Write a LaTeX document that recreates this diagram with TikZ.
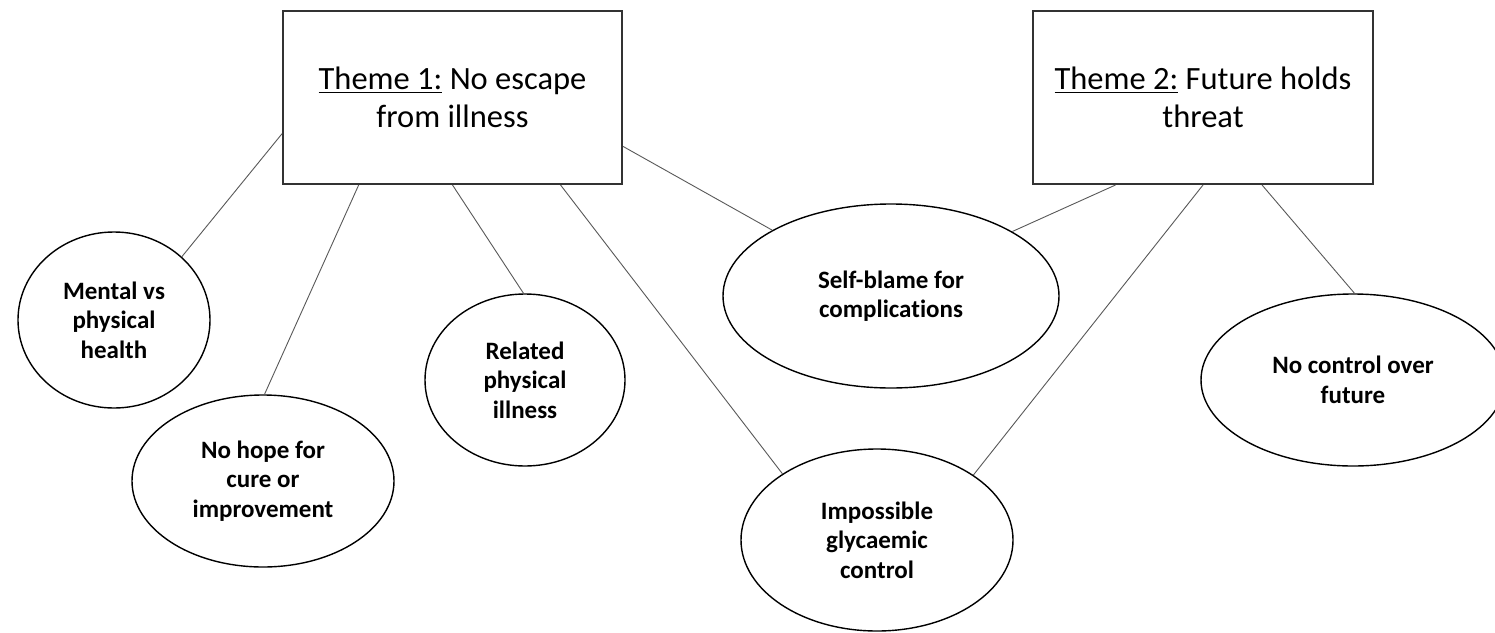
\documentclass[tikz,border=0pt]{standalone}
\usepackage{fontspec}
\setmainfont{Carlito}[Ligatures=NoCommon]
\usetikzlibrary{shapes.geometric}
% underlined lead-in of a theme title
\newcommand{\thmul}[1]{\setbox0\hbox{#1}\rlap{\rule[-3.5pt]{\wd0}{1.6pt}}\box0\relax}
\begin{document}
\begin{tikzpicture}[x=1pt,y=-1pt,
  theme/.style={draw=black!80, line width=2pt, rectangle, minimum width=339pt,
    minimum height=173pt, inner sep=0pt, align=center,
    font=\fontsize{32.5}{38}\selectfont},
  subtheme/.style={draw=black, line width=1.4pt, ellipse, inner sep=0pt,
    align=center, font=\fontsize{25}{29.5}\selectfont\bfseries},
  link/.style={draw=black!65, line width=0.9pt}]
\fill[white] (0,0) rectangle (1495,632);
\useasboundingbox (0,0) rectangle (1495,632);
\clip (0,0) rectangle (1495,632);

% themes
\node[theme] (t1) at (452.5,97.5) {\thmul{Theme 1:} No escape\\from illness};
\node[theme, minimum width=340pt] (t2) at (1203,97.5) {\thmul{Theme 2:} Future holds\\threat};

% sub-themes
\node[subtheme, minimum width=192pt, minimum height=176pt] (mental) at (114,320) {Mental vs\\physical\\health};
\node[subtheme, minimum width=262pt, minimum height=172pt] (nohope) at (263,481) {No hope for\\cure or\\improvement};
\node[subtheme, minimum width=200pt, minimum height=172pt] (related) at (525,380) {Related\\physical\\illness};
\node[subtheme, minimum width=336pt, minimum height=184pt] (selfblame) at (891,296) {Self-blame for\\complications};
\node[subtheme, minimum width=304pt, minimum height=172pt] (nocontrol) at (1353,380) {No control over\\future};
\node[subtheme, minimum width=272pt, minimum height=182pt] (glyc) at (877,540) {Impossible\\glycaemic\\control};

% links from theme 1
\draw[link] (t1.192.5) -- (mental.43);
\draw[link] (t1.223.1) -- (nohope.89);
\draw[link] (t1.south) -- (related.91);
\draw[link] (t1.321.7) -- (glyc.145);
\draw[link] (t1.344.3) -- (selfblame.151.4);

% links from theme 2
\draw[link] (t2.225.5) -- (selfblame.28.4);
\draw[link] (t2.south) -- (glyc.34.4);
\draw[link] (t2.304.3) -- (nocontrol.89);
\end{tikzpicture}
\end{document}
